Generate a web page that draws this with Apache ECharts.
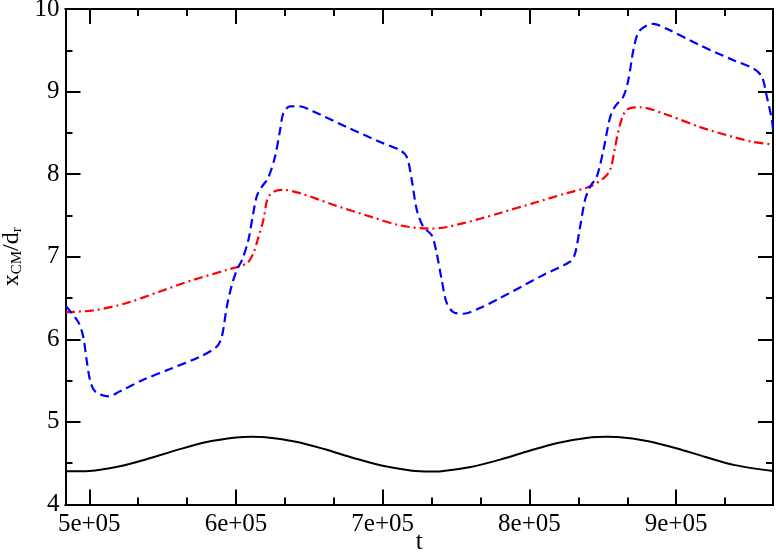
<!DOCTYPE html>
<html>
<head>
<meta charset="utf-8">
<script src="https://cdn.jsdelivr.net/npm/echarts@6/dist/echarts.min.js"></script>
<style>
  html, body { margin: 0; padding: 0; background: #fff; }
</style>
</head>
<body>
<div id="chart" style="width: 776px; height: 552px"></div>
<script>
// data
const tBlack = [484000, 500000, 520000, 540000, 560000, 580000, 600000, 611000, 620000, 640000, 660000, 680000, 700000, 720000, 732000, 740000, 760000, 780000, 800000, 820000, 840000, 853000, 860000, 880000, 900000, 920000, 940000, 966000];
const blackVals = [4.403, 4.407, 4.46, 4.553, 4.661, 4.756, 4.811, 4.82, 4.814, 4.763, 4.672, 4.564, 4.468, 4.41, 4.4, 4.404, 4.454, 4.543, 4.651, 4.748, 4.809, 4.82, 4.817, 4.77, 4.682, 4.575, 4.477, 4.405];

const tRed = [484100, 502700, 525500, 548200, 570900, 593700, 607300, 611800, 615000, 618600, 621100, 623200, 627300, 632300, 643600, 666300, 689100, 711800, 732200, 743600, 766300, 780000, 802700, 825400, 841300, 850400, 855000, 858400, 861900, 866300, 875400, 893600, 916300, 939000, 952600, 966100];
const redVals = [6.33, 6.35, 6.44, 6.58, 6.72, 6.84, 6.92, 7.04, 7.22, 7.44, 7.68, 7.75, 7.8, 7.81, 7.77, 7.63, 7.5, 7.38, 7.34, 7.36, 7.46, 7.53, 7.65, 7.77, 7.85, 7.95, 8.05, 8.33, 8.61, 8.78, 8.81, 8.72, 8.57, 8.45, 8.39, 8.36];

const tBlue = [484100, 492500, 495900, 498200, 500500, 503900, 513000, 520900, 536800, 555000, 575500, 586800, 590300, 593700, 596600, 600500, 604100, 608400, 611800, 614300, 617700, 621800, 626600, 630000, 632300, 636800, 643600, 652700, 675500, 698200, 711800, 716400, 719800, 723200, 727700, 733400, 736800, 740200, 743600, 748100, 755000, 766300, 780000, 809500, 827700, 831100, 834500, 837900, 841400, 845900, 850400, 855000, 858400, 864000, 867400, 870800, 874300, 880000, 884500, 893600, 916300, 939000, 952600, 958400, 961800, 965200, 966100];
const blueVals = [6.4, 6.21, 6.03, 5.75, 5.51, 5.37, 5.31, 5.37, 5.51, 5.64, 5.79, 5.91, 6.03, 6.39, 6.62, 6.84, 6.96, 7.2, 7.53, 7.74, 7.85, 7.95, 8.21, 8.53, 8.74, 8.82, 8.82, 8.76, 8.57, 8.39, 8.29, 8.21, 7.93, 7.57, 7.36, 7.26, 7.04, 6.72, 6.44, 6.33, 6.31, 6.38, 6.5, 6.78, 6.94, 7.04, 7.36, 7.69, 7.85, 7.97, 8.29, 8.69, 8.82, 8.94, 9.14, 9.5, 9.72, 9.8, 9.82, 9.76, 9.56, 9.38, 9.28, 9.18, 8.94, 8.66, 8.52];

const xMajorTicks = [500000, 600000, 700000, 800000, 900000];
const xMinorTicks = [533333, 566667, 633333, 666667, 733333, 766667, 833333, 866667, 933333];
const xMin = 483800;
const xMax = 966000;

const font = "Liberation Serif";
const chart = echarts.init(document.getElementById("chart"));

const pairs = (ts, vs) => ts.map((t, i) => [t, vs[i]]);

const xAxisBase = (position, ticks, len, withLabel) => ({
  type: "value",
  position: position,
  min: xMin,
  max: xMax,
  axisLine: { show: true, onZero: false, lineStyle: { color: "#000", width: 2 } },
  axisTick: { show: true, inside: true, length: len, customValues: ticks, lineStyle: { color: "#000", width: 2 } },
  axisLabel: withLabel
    ? {
        show: true,
        customValues: xMajorTicks,
        formatter: (v) => v / 100000 + "e+05",
        fontFamily: font,
        fontSize: 25,
        color: "#000",
        margin: 7,
      }
    : { show: false },
  splitLine: { show: false },
});

const yAxisBase = (position, withLabel) => ({
  type: "value",
  position: position,
  min: 4,
  max: 10,
  interval: 1,
  axisLine: { show: true, onZero: false, lineStyle: { color: "#000", width: 2 } },
  axisTick: { show: true, inside: true, length: 15, lineStyle: { color: "#000", width: 2 } },
  minorTick: { show: true, splitNumber: 2, length: 7, lineStyle: { color: "#000", width: 2 } },
  axisLabel: withLabel
    ? { show: true, fontFamily: font, fontSize: 25, color: "#000", margin: 6 }
    : { show: false },
  splitLine: { show: false },
  minorSplitLine: { show: false },
});

const option = {
  backgroundColor: "#fff",
  animation: false,
  grid: { left: 65.5, right: 3, top: 9, bottom: 47.5, containLabel: false, outerBoundsMode: "none" },
  xAxis: [
    Object.assign(xAxisBase("bottom", xMajorTicks, 15, true), {
      name: "t",
      nameLocation: "middle",
      nameGap: 25,
      nameMoveOverlap: false,
      nameTextStyle: { fontFamily: font, fontSize: 25, color: "#000" },
    }),
    xAxisBase("bottom", xMinorTicks, 7, false),
    xAxisBase("top", xMajorTicks, 15, false),
    xAxisBase("top", xMinorTicks, 7, false),
  ],
  yAxis: [
    Object.assign(yAxisBase("left", true), {
      name: "{a|x}{b|CM}{a|/d}{b|r}",
      nameLocation: "middle",
      nameGap: 41,
      nameRotate: 90,
      nameMoveOverlap: false,
      nameTextStyle: {
        color: "#000",
        rich: {
          a: { fontFamily: font, fontSize: 24, lineHeight: 26, color: "#000" },
          b: { fontFamily: font, fontSize: 15, lineHeight: 12, verticalAlign: "bottom", color: "#000" },
        },
      },
    }),
    yAxisBase("right", false),
  ],
  series: [
    {
      name: "black",
      type: "line",
      data: pairs(tBlack, blackVals),
      showSymbol: false,
      smooth: 0.3,
      lineStyle: { color: "#000", width: 2 },
    },
    {
      name: "red",
      type: "line",
      data: pairs(tRed, redVals),
      showSymbol: false,
      smooth: 0.3,
      lineStyle: { color: "#ff0000", width: 2.2, type: [9, 4, 2, 4] },
    },
    {
      name: "blue",
      type: "line",
      data: pairs(tBlue, blueVals),
      showSymbol: false,
      smooth: 0.3,
      lineStyle: { color: "#0000ff", width: 2.2, type: [9, 5] },
    },
  ],
};

chart.setOption(option);
</script>
</body>
</html>
